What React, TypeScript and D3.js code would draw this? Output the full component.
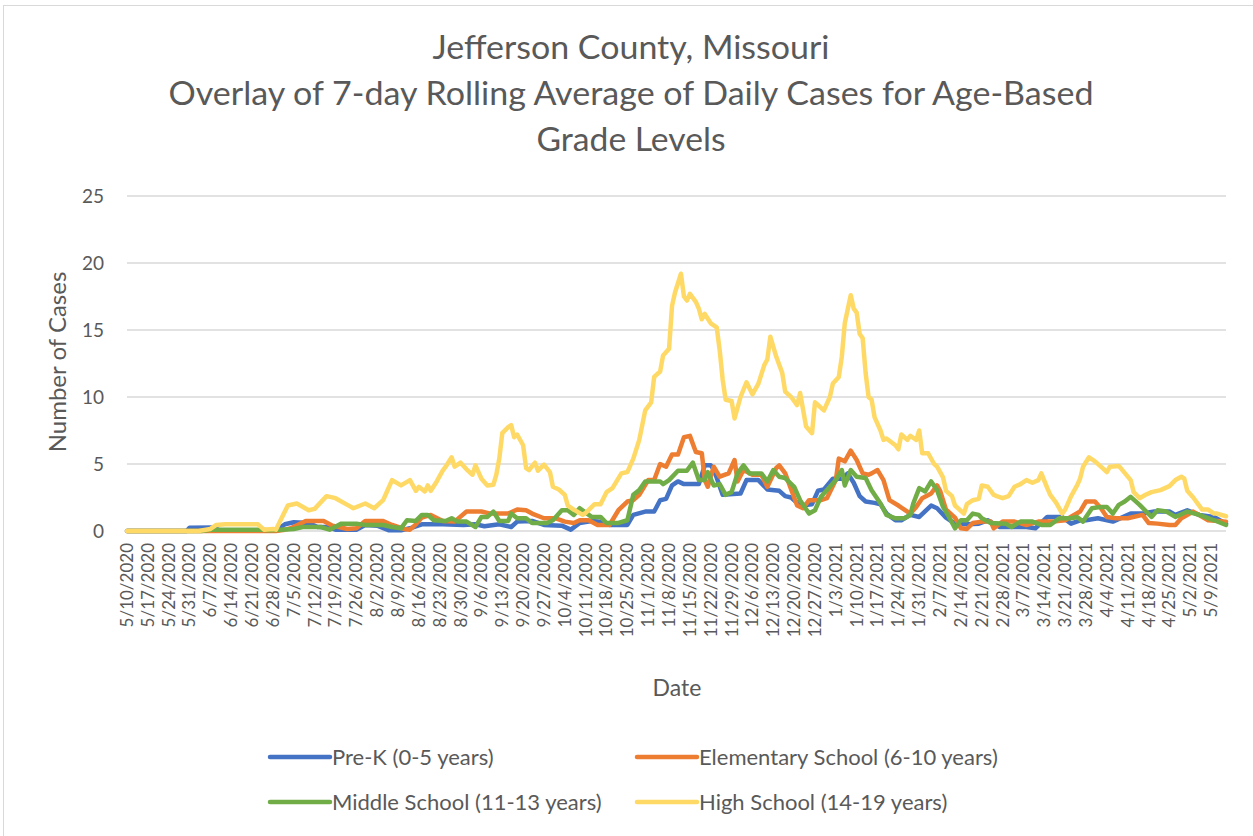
import React from 'react';
import * as d3 from 'd3';

// series, in draw order (last one on top)
const seriesNames = [
  'Pre-K (0-5 years)',
  'Elementary School (6-10 years)',
  'Middle School (11-13 years)',
  'High School (14-19 years)',
];
const seriesColors = ['#4472C4', '#ED7D31', '#70AD47', '#FFD966'];

const titleLines = [
  'Jefferson County, Missouri',
  'Overlay of 7-day Rolling Average of Daily Cases for Age-Based',
  'Grade Levels',
];
const titleWidths = [397, 925, 189];

const yTicks = [0, 5, 10, 15, 20, 25];
const firstDate = '2020-05-10';
const lastDate = '2021-05-14';

type Pt = [string, number];

const preK: Pt[] = [
  ['2020-05-10', 0], ['2020-05-30', 0], ['2020-05-31', 0.25], ['2020-06-08', 0.27], ['2020-06-10', 0.05],
  ['2020-06-29', 0.05], ['2020-07-02', 0.5], ['2020-07-05', 0.65], ['2020-07-10', 0.6], ['2020-07-13', 0.3],
  ['2020-07-16', 0.3], ['2020-07-19', 0.1], ['2020-07-26', 0.1], ['2020-07-29', 0.45], ['2020-08-02', 0.4],
  ['2020-08-06', 0.05], ['2020-08-10', 0.05], ['2020-08-13', 0.2], ['2020-08-17', 0.5], ['2020-08-24', 0.5],
  ['2020-08-31', 0.45], ['2020-09-04', 0.5], ['2020-09-07', 0.35], ['2020-09-12', 0.5], ['2020-09-16', 0.3],
  ['2020-09-18', 0.7], ['2020-09-23', 0.75], ['2020-09-27', 0.45], ['2020-10-03', 0.4], ['2020-10-06', 0.1],
  ['2020-10-09', 0.6], ['2020-10-13', 0.75], ['2020-10-16', 0.7], ['2020-10-19', 0.45], ['2020-10-25', 0.45],
  ['2020-10-27', 1.2], ['2020-10-31', 1.45], ['2020-11-03', 1.45], ['2020-11-05', 2.3], ['2020-11-07', 2.4],
  ['2020-11-09', 3.4], ['2020-11-11', 3.7], ['2020-11-13', 3.5], ['2020-11-18', 3.5], ['2020-11-20', 4.9],
  ['2020-11-22', 4.9], ['2020-11-23', 4.6], ['2020-11-26', 2.7], ['2020-12-02', 2.8], ['2020-12-04', 3.8],
  ['2020-12-08', 3.8], ['2020-12-11', 3.1], ['2020-12-15', 3.0], ['2020-12-17', 2.6], ['2020-12-19', 2.5],
  ['2020-12-22', 1.9], ['2020-12-26', 2.0], ['2020-12-28', 3.0], ['2020-12-30', 3.1], ['2021-01-02', 3.9],
  ['2021-01-05', 3.9], ['2021-01-07', 4.3], ['2021-01-09', 3.6], ['2021-01-11', 2.6], ['2021-01-13', 2.2],
  ['2021-01-16', 2.1], ['2021-01-18', 2.0], ['2021-01-20', 1.3], ['2021-01-23', 0.8], ['2021-01-25', 0.8],
  ['2021-01-28', 1.2], ['2021-01-31', 1.05], ['2021-02-04', 1.9], ['2021-02-06', 1.7], ['2021-02-09', 1.0],
  ['2021-02-12', 0.55], ['2021-02-16', 0.5], ['2021-02-20', 0.55], ['2021-02-23', 0.8], ['2021-02-27', 0.3],
  ['2021-03-08', 0.3], ['2021-03-11', 0.2], ['2021-03-15', 1.05], ['2021-03-20', 1.05], ['2021-03-23', 0.55],
  ['2021-03-26', 0.8], ['2021-03-28', 0.8], ['2021-04-01', 0.95], ['2021-04-06', 0.7], ['2021-04-12', 1.3],
  ['2021-04-16', 1.3], ['2021-04-20', 1.45], ['2021-04-25', 1.45], ['2021-04-27', 1.2], ['2021-05-01', 1.55],
  ['2021-05-05', 1.2], ['2021-05-10', 1.05], ['2021-05-14', 0.55],
];

const elementary: Pt[] = [
  ['2020-05-10', 0], ['2020-06-29', 0], ['2020-07-02', 0.1], ['2020-07-04', 0.2], ['2020-07-09', 0.75],
  ['2020-07-15', 0.75], ['2020-07-18', 0.4], ['2020-07-23', 0.15], ['2020-07-26', 0.2], ['2020-07-29', 0.75],
  ['2020-08-04', 0.75], ['2020-08-07', 0.45], ['2020-08-11', 0.15], ['2020-08-13', 0.1], ['2020-08-15', 0.5],
  ['2020-08-17', 1.0], ['2020-08-20', 1.2], ['2020-08-24', 0.75], ['2020-08-28', 0.7], ['2020-09-01', 1.45],
  ['2020-09-06', 1.45], ['2020-09-09', 1.3], ['2020-09-15', 1.3], ['2020-09-18', 1.6], ['2020-09-21', 1.55],
  ['2020-09-23', 1.3], ['2020-09-27', 0.95], ['2020-10-01', 0.95], ['2020-10-04', 0.7], ['2020-10-07', 0.6],
  ['2020-10-09', 0.8], ['2020-10-12', 0.8], ['2020-10-15', 0.45], ['2020-10-19', 0.45], ['2020-10-22', 1.55],
  ['2020-10-25', 2.2], ['2020-10-27', 2.3], ['2020-10-29', 2.7], ['2020-11-01', 3.8], ['2020-11-03', 3.8],
  ['2020-11-05', 5.0], ['2020-11-07', 4.8], ['2020-11-09', 5.7], ['2020-11-11', 5.7], ['2020-11-13', 7.0],
  ['2020-11-15', 7.1], ['2020-11-17', 5.9], ['2020-11-19', 5.8], ['2020-11-20', 3.8], ['2020-11-21', 3.3],
  ['2020-11-23', 4.8], ['2020-11-25', 4.05], ['2020-11-28', 4.3], ['2020-11-30', 5.3], ['2020-12-01', 3.7],
  ['2020-12-03', 4.55], ['2020-12-06', 4.2], ['2020-12-09', 4.2], ['2020-12-11', 3.3], ['2020-12-14', 4.7],
  ['2020-12-15', 4.9], ['2020-12-17', 4.3], ['2020-12-19', 3.1], ['2020-12-21', 1.9], ['2020-12-23', 1.7],
  ['2020-12-25', 2.3], ['2020-12-29', 2.3], ['2020-12-31', 2.45], ['2021-01-03', 3.8], ['2021-01-04', 5.4],
  ['2021-01-06', 5.2], ['2021-01-08', 6.0], ['2021-01-10', 5.3], ['2021-01-12', 4.3], ['2021-01-14', 4.2],
  ['2021-01-15', 4.3], ['2021-01-17', 4.55], ['2021-01-19', 3.8], ['2021-01-21', 2.3], ['2021-01-24', 1.9],
  ['2021-01-26', 1.6], ['2021-01-28', 1.3], ['2021-01-30', 1.8], ['2021-02-01', 2.45], ['2021-02-04', 2.8],
  ['2021-02-06', 3.4], ['2021-02-07', 3.0], ['2021-02-09', 1.6], ['2021-02-12', 1.0], ['2021-02-14', 0.2],
  ['2021-02-16', 0.15], ['2021-02-18', 0.6], ['2021-02-21', 0.7], ['2021-02-24', 0.7], ['2021-02-25', 0.2],
  ['2021-02-28', 0.7], ['2021-03-04', 0.7], ['2021-03-08', 0.45], ['2021-03-12', 0.7], ['2021-03-17', 0.7],
  ['2021-03-21', 0.8], ['2021-03-24', 1.2], ['2021-03-26', 1.45], ['2021-03-28', 2.2], ['2021-03-31', 2.2],
  ['2021-04-02', 1.7], ['2021-04-04', 1.05], ['2021-04-07', 0.95], ['2021-04-11', 0.95], ['2021-04-16', 1.2],
  ['2021-04-18', 0.6], ['2021-04-21', 0.55], ['2021-04-25', 0.45], ['2021-04-27', 0.45], ['2021-04-29', 0.95],
  ['2021-05-03', 1.45], ['2021-05-08', 0.8], ['2021-05-14', 0.7],
];

const middle: Pt[] = [
  ['2020-05-10', 0], ['2020-06-04', 0], ['2020-06-07', 0.1], ['2020-06-24', 0.1], ['2020-06-27', 0.05],
  ['2020-07-01', 0.1], ['2020-07-05', 0.15], ['2020-07-08', 0.3], ['2020-07-14', 0.3], ['2020-07-17', 0.1],
  ['2020-07-21', 0.55], ['2020-07-26', 0.55], ['2020-07-29', 0.45], ['2020-08-04', 0.45], ['2020-08-07', 0.3],
  ['2020-08-10', 0.2], ['2020-08-12', 0.8], ['2020-08-15', 0.75], ['2020-08-17', 1.2], ['2020-08-19', 1.2],
  ['2020-08-21', 0.8], ['2020-08-25', 0.75], ['2020-08-27', 0.95], ['2020-08-29', 0.7], ['2020-09-01', 0.7],
  ['2020-09-04', 0.3], ['2020-09-06', 1.05], ['2020-09-08', 1.05], ['2020-09-10', 1.45], ['2020-09-12', 0.75],
  ['2020-09-15', 0.75], ['2020-09-16', 1.3], ['2020-09-18', 0.95], ['2020-09-21', 0.95], ['2020-09-23', 0.6],
  ['2020-09-28', 0.6], ['2020-09-30', 0.8], ['2020-10-03', 1.55], ['2020-10-05', 1.55], ['2020-10-07', 1.2],
  ['2020-10-09', 1.7], ['2020-10-13', 1.05], ['2020-10-16', 1.05], ['2020-10-18', 0.6], ['2020-10-22', 0.6],
  ['2020-10-25', 0.8], ['2020-10-27', 2.7], ['2020-10-29', 3.05], ['2020-10-31', 3.7], ['2020-11-05', 3.7],
  ['2020-11-06', 3.5], ['2020-11-08', 3.8], ['2020-11-11', 4.5], ['2020-11-14', 4.5], ['2020-11-16', 5.1],
  ['2020-11-18', 3.8], ['2020-11-20', 3.8], ['2020-11-21', 4.4], ['2020-11-23', 3.4], ['2020-11-25', 3.5],
  ['2020-11-27', 2.7], ['2020-11-29', 2.9], ['2020-12-01', 4.3], ['2020-12-03', 4.9], ['2020-12-05', 4.3],
  ['2020-12-09', 4.3], ['2020-12-11', 3.7], ['2020-12-13', 4.55], ['2020-12-15', 4.05], ['2020-12-17', 3.95],
  ['2020-12-20', 3.3], ['2020-12-22', 2.3], ['2020-12-25', 1.3], ['2020-12-27', 1.55], ['2020-12-29', 2.55],
  ['2021-01-01', 3.3], ['2021-01-03', 3.8], ['2021-01-05', 4.55], ['2021-01-06', 3.4], ['2021-01-08', 4.55],
  ['2021-01-10', 4.05], ['2021-01-13', 3.95], ['2021-01-15', 3.05], ['2021-01-18', 2.05], ['2021-01-20', 1.2],
  ['2021-01-23', 0.95], ['2021-01-26', 0.95], ['2021-01-28', 1.2], ['2021-01-29', 2.05], ['2021-01-31', 3.2],
  ['2021-02-02', 2.95], ['2021-02-04', 3.7], ['2021-02-06', 3.05], ['2021-02-08', 1.8], ['2021-02-10', 1.05],
  ['2021-02-12', 0.2], ['2021-02-14', 0.8], ['2021-02-16', 0.8], ['2021-02-18', 1.3], ['2021-02-20', 1.2],
  ['2021-02-21', 0.95], ['2021-02-24', 0.6], ['2021-03-01', 0.55], ['2021-03-03', 0.3], ['2021-03-06', 0.7],
  ['2021-03-10', 0.7], ['2021-03-13', 0.45], ['2021-03-16', 0.45], ['2021-03-19', 0.95], ['2021-03-23', 0.95],
  ['2021-03-25', 1.05], ['2021-03-27', 0.7], ['2021-03-28', 1.05], ['2021-03-30', 1.7], ['2021-04-02', 1.8],
  ['2021-04-04', 1.8], ['2021-04-06', 1.3], ['2021-04-08', 1.95], ['2021-04-10', 2.2], ['2021-04-12', 2.55],
  ['2021-04-15', 1.95], ['2021-04-19', 1.05], ['2021-04-21', 1.55], ['2021-04-24', 1.45], ['2021-04-27', 1.05],
  ['2021-05-01', 1.45], ['2021-05-05', 1.2], ['2021-05-10', 0.8], ['2021-05-14', 0.45],
];

const highSchool: Pt[] = [
  ['2020-05-10', 0], ['2020-06-03', 0], ['2020-06-07', 0.15], ['2020-06-09', 0.45], ['2020-06-12', 0.5],
  ['2020-06-23', 0.5], ['2020-06-25', 0.1], ['2020-06-28', 0.15], ['2020-06-29', 0.1], ['2020-07-01', 1.0],
  ['2020-07-03', 1.9], ['2020-07-06', 2.05], ['2020-07-10', 1.55], ['2020-07-12', 1.65], ['2020-07-16', 2.6],
  ['2020-07-19', 2.45], ['2020-07-23', 1.95], ['2020-07-25', 1.7], ['2020-07-29', 2.05], ['2020-08-01', 1.7],
  ['2020-08-04', 2.3], ['2020-08-05', 2.8], ['2020-08-07', 3.8], ['2020-08-10', 3.4], ['2020-08-13', 3.8],
  ['2020-08-15', 3.0], ['2020-08-16', 3.3], ['2020-08-18', 2.95], ['2020-08-19', 3.4], ['2020-08-20', 3.0],
  ['2020-08-22', 3.7], ['2020-08-24', 4.5], ['2020-08-25', 4.8], ['2020-08-27', 5.5], ['2020-08-28', 4.8],
  ['2020-08-30', 5.1], ['2020-09-01', 4.6], ['2020-09-03', 4.2], ['2020-09-04', 4.9], ['2020-09-06', 3.9],
  ['2020-09-08', 3.4], ['2020-09-10', 3.45], ['2020-09-11', 4.2], ['2020-09-12', 5.4], ['2020-09-13', 7.3],
  ['2020-09-15', 7.75], ['2020-09-16', 7.9], ['2020-09-17', 7.0], ['2020-09-18', 7.2], ['2020-09-20', 6.4],
  ['2020-09-21', 4.7], ['2020-09-22', 4.55], ['2020-09-24', 5.1], ['2020-09-25', 4.5], ['2020-09-27', 4.95],
  ['2020-09-29', 4.4], ['2020-09-30', 3.3], ['2020-10-02', 3.1], ['2020-10-04', 2.7], ['2020-10-05', 1.9],
  ['2020-10-07', 1.6], ['2020-10-10', 1.2], ['2020-10-11', 1.35], ['2020-10-14', 2.0], ['2020-10-16', 2.0],
  ['2020-10-18', 2.9], ['2020-10-20', 3.2], ['2020-10-23', 4.3], ['2020-10-25', 4.4], ['2020-10-27', 5.4],
  ['2020-10-29', 6.8], ['2020-10-31', 9.0], ['2020-11-02', 9.6], ['2020-11-03', 11.5], ['2020-11-05', 11.9],
  ['2020-11-06', 13.1], ['2020-11-08', 13.6], ['2020-11-09', 16.8], ['2020-11-10', 17.8], ['2020-11-12', 19.2],
  ['2020-11-13', 17.5], ['2020-11-14', 17.2], ['2020-11-15', 17.7], ['2020-11-17', 17.1], ['2020-11-18', 16.6],
  ['2020-11-19', 15.8], ['2020-11-20', 16.2], ['2020-11-22', 15.5], ['2020-11-24', 15.2], ['2020-11-25', 13.5],
  ['2020-11-26', 11.3], ['2020-11-27', 9.8], ['2020-11-29', 9.7], ['2020-11-30', 8.4], ['2020-12-02', 10.0],
  ['2020-12-04', 11.1], ['2020-12-06', 10.2], ['2020-12-08', 11.0], ['2020-12-10', 12.4], ['2020-12-11', 12.8],
  ['2020-12-12', 14.5], ['2020-12-14', 13.0], ['2020-12-16', 11.8], ['2020-12-17', 10.4], ['2020-12-19', 10.0],
  ['2020-12-21', 9.4], ['2020-12-22', 10.3], ['2020-12-24', 7.8], ['2020-12-26', 7.3], ['2020-12-27', 9.6],
  ['2020-12-28', 9.4], ['2020-12-30', 9.0], ['2021-01-01', 10.0], ['2021-01-02', 11.0], ['2021-01-04', 11.5],
  ['2021-01-05', 13.0], ['2021-01-06', 15.5], ['2021-01-08', 17.6], ['2021-01-09', 16.6], ['2021-01-10', 16.3],
  ['2021-01-11', 14.7], ['2021-01-12', 14.4], ['2021-01-13', 11.8], ['2021-01-14', 10.0], ['2021-01-15', 9.8],
  ['2021-01-16', 8.5], ['2021-01-18', 7.5], ['2021-01-19', 6.8], ['2021-01-20', 6.9], ['2021-01-23', 6.4],
  ['2021-01-24', 6.1], ['2021-01-25', 7.2], ['2021-01-27', 6.8], ['2021-01-28', 7.1], ['2021-01-30', 6.8],
  ['2021-01-31', 7.5], ['2021-02-01', 5.8], ['2021-02-03', 5.8], ['2021-02-05', 5.0], ['2021-02-06', 4.8],
  ['2021-02-08', 4.0], ['2021-02-09', 3.0], ['2021-02-11', 2.6], ['2021-02-12', 1.9], ['2021-02-15', 1.3],
  ['2021-02-16', 2.0], ['2021-02-18', 2.3], ['2021-02-20', 2.4], ['2021-02-21', 3.4], ['2021-02-23', 3.3],
  ['2021-02-25', 2.7], ['2021-02-26', 2.6], ['2021-02-28', 2.45], ['2021-03-02', 2.6], ['2021-03-04', 3.3],
  ['2021-03-06', 3.5], ['2021-03-08', 3.8], ['2021-03-10', 3.6], ['2021-03-12', 3.8], ['2021-03-13', 4.3],
  ['2021-03-15', 3.2], ['2021-03-16', 2.7], ['2021-03-18', 2.1], ['2021-03-20', 1.3], ['2021-03-21', 1.6],
  ['2021-03-23', 2.6], ['2021-03-25', 3.4], ['2021-03-26', 3.9], ['2021-03-27', 4.8], ['2021-03-29', 5.5],
  ['2021-03-31', 5.2], ['2021-04-02', 4.8], ['2021-04-04', 4.4], ['2021-04-05', 4.8], ['2021-04-08', 4.85],
  ['2021-04-09', 4.6], ['2021-04-12', 3.8], ['2021-04-13', 2.9], ['2021-04-15', 2.45], ['2021-04-17', 2.7],
  ['2021-04-19', 2.9], ['2021-04-22', 3.05], ['2021-04-25', 3.35], ['2021-04-27', 3.8], ['2021-04-29', 4.05],
  ['2021-04-30', 3.9], ['2021-05-01', 3.0], ['2021-05-03', 2.5], ['2021-05-05', 1.9], ['2021-05-06', 1.6],
  ['2021-05-08', 1.6], ['2021-05-10', 1.3], ['2021-05-11', 1.3], ['2021-05-14', 1.1],
];

const allSeries = [preK, elementary, middle, highSchool];

const W = 1253;
const H = 836;
const plot = { left: 127, right: 1226, top: 196, bottom: 531 };
const font = 'Lato, "Open Sans", sans-serif';
const textColor = '#595959';

export default function App() {
  const parse = d3.timeParse('%Y-%m-%d');
  const start = parse(firstDate) as Date;
  const end = parse(lastDate) as Date;

  const x = d3.scaleTime().domain([start, end]).range([plot.left, plot.right]);
  const y = d3.scaleLinear().domain([0, 25]).range([plot.bottom, plot.top]);

  const line = d3
    .line<Pt>()
    .x((d) => x(parse(d[0]) as Date))
    .y((d) => y(d[1]));

  // weekly labels, every Sunday from 5/10/2020
  const weeks = d3.timeWeek.range(start, d3.timeDay.offset(end, -3));
  const fmt = d3.timeFormat('%-m/%-d/%Y');

  const legendRows = [
    { lx: 270, ly: 757, i: 0 },
    { lx: 637, ly: 757, i: 1 },
    { lx: 270, ly: 802, i: 2 },
    { lx: 637, ly: 802, i: 3 },
  ];

  return (
    <svg
      width={W}
      height={H}
      style={{ position: 'absolute', left: 0, top: 0, background: '#fff' }}
      fontFamily={font}
    >
      <rect x={3.5} y={5.5} width={W + 10} height={H + 10} fill="#fff" stroke="#D9D9D9" />

      {titleLines.map((t, i) => (
        <text
          key={t}
          x={631}
          y={59 + i * 46}
          textAnchor="middle"
          fontSize={32}
          textLength={titleWidths[i]}
          lengthAdjust="spacingAndGlyphs"
          fill={textColor}
        >
          {t}
        </text>
      ))}

      {/* gridlines */}
      {yTicks.map((t) => (
        <g key={t}>
          <line x1={plot.left} x2={plot.right} y1={y(t)} y2={y(t)} stroke="#D9D9D9" strokeWidth={1.5} />
          <text x={104} y={y(t)} dy="0.35em" textAnchor="end" fontSize={19} fill={textColor}>
            {t}
          </text>
        </g>
      ))}

      {/* x labels */}
      {weeks.map((d) => (
        <text
          key={d.getTime()}
          transform={`translate(${x(d)},543) rotate(-90)`}
          textAnchor="end"
          dy="0.35em"
          fontSize={17}
          fill={textColor}
        >
          {fmt(d)}
        </text>
      ))}

      <text
        transform="translate(58,362) rotate(-90)"
        textAnchor="middle"
        dy="0.35em"
        fontSize={24}
        fill={textColor}
      >
        Number of Cases
      </text>
      <text x={677} y={688} textAnchor="middle" dy="0.35em" fontSize={23} fill={textColor}>
        Date
      </text>

      {/* series */}
      {allSeries.map((s, i) => (
        <path
          key={seriesNames[i]}
          d={line(s) || ''}
          fill="none"
          stroke={seriesColors[i]}
          strokeWidth={4.5}
          strokeLinejoin="round"
          strokeLinecap="round"
        />
      ))}

      {/* legend */}
      {legendRows.map(({ lx, ly, i }) => (
        <g key={seriesNames[i]}>
          <line x1={lx} x2={lx + 60} y1={ly} y2={ly} stroke={seriesColors[i]} strokeWidth={4.5} strokeLinecap="round" />
          <text x={lx + 62} y={ly} dy="0.35em" fontSize={22} fill={textColor}>
            {seriesNames[i]}
          </text>
        </g>
      ))}
    </svg>
  );
}
